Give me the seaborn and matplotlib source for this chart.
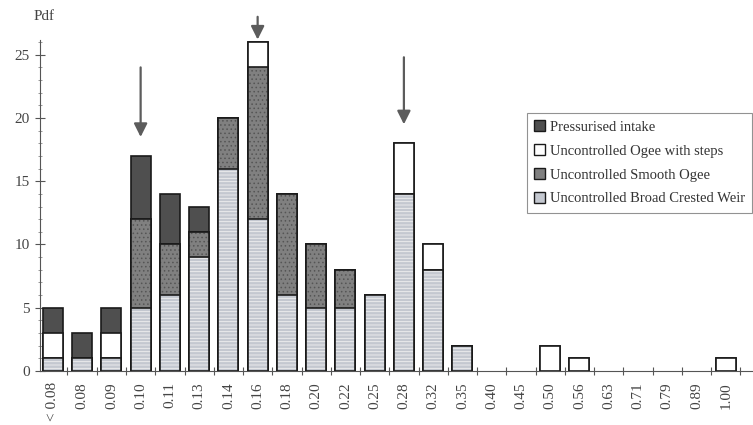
import numpy as np
import pandas as pd
import matplotlib
matplotlib.use("Agg")
import matplotlib.pyplot as plt
from matplotlib.patches import Patch
import seaborn as sns

# Spillway discharge classes (x axis) and counts per spillway type
categories = ["< 0.08", "0.08", "0.09", "0.10", "0.11", "0.13", "0.14", "0.16",
              "0.18", "0.20", "0.22", "0.25", "0.28", "0.32", "0.35", "0.40",
              "0.45", "0.50", "0.56", "0.63", "0.71", "0.79", "0.89", "1.00"]
broad_crested = [1, 1, 1, 5, 6, 9, 16, 12, 6, 5, 5, 6, 14, 8, 2, 0, 0, 0, 0, 0, 0, 0, 0, 0]
smooth_ogee = [0, 0, 0, 7, 4, 2, 4, 12, 8, 5, 3, 0, 0, 0, 0, 0, 0, 0, 0, 0, 0, 0, 0, 0]
ogee_steps = [2, 0, 2, 0, 0, 0, 0, 2, 0, 0, 0, 0, 4, 2, 0, 0, 0, 2, 1, 0, 0, 0, 0, 1]
pressurised = [2, 2, 2, 5, 4, 2, 0, 0, 0, 0, 0, 0, 0, 0, 0, 0, 0, 0, 0, 0, 0, 0, 0, 0]

# arrows pointing at the peaks
arrow_cats = ["0.10", "0.16", "0.28"]
arrow_tail = [24.0, 28.0, 24.8]
arrow_tip = [18.5, 26.2, 19.5]

sns.set_style("white")
plt.rcParams["font.family"] = ["Liberation Serif", "DejaVu Serif"]
plt.rcParams["hatch.linewidth"] = 0.6

df = pd.DataFrame({
    "cat": categories,
    "broad": broad_crested,
    "smooth": smooth_ogee,
    "steps": ogee_steps,
    "press": pressurised,
})
df["l1"] = df["broad"]
df["l2"] = df["l1"] + df["smooth"]
df["l3"] = df["l2"] + df["steps"]
df["l4"] = df["l3"] + df["press"]

fig = plt.figure(figsize=(7.53, 4.25), dpi=100)
ax = fig.add_axes([40 / 753, 1 - 371 / 425, 712 / 753, 1 - 13 / 425 - (1 - 371 / 425)])

c_press = "#4f4f4f"
c_steps = "#ffffff"
c_smooth = "#808080"
c_broad = "#c4c8d0"
width = 0.68

layers = [
    ("l4", c_press, None, None),
    ("l3", c_steps, None, None),
    ("l2", c_smooth, "....", "#555555"),
    ("l1", c_broad, "-----", "#f0f0f0"),
]
for col, fc, hatch, hc in layers:
    if hatch:
        sns.barplot(data=df, x="cat", y=col, order=categories, color=fc,
                    width=width, ax=ax, saturation=1, linewidth=0,
                    edgecolor=hc, hatch=hatch)
        for p in ax.containers[-1]:
            p.set_edgecolor(hc)
            p.set_linewidth(0)
    sns.barplot(data=df, x="cat", y=col, order=categories,
                color=fc if not hatch else "none", fill=not hatch,
                width=width, ax=ax, saturation=1,
                edgecolor="#1a1a1a", linewidth=1.2)
    for p in ax.containers[-1]:
        p.set_edgecolor("#1a1a1a")
        if hatch:
            p.set_facecolor("none")

# hide empty bins so they do not thicken the axis line
for p in ax.patches:
    if p.get_height() == 0:
        p.set_visible(False)

for cat, y0, y1 in zip(arrow_cats, arrow_tail, arrow_tip):
    xi = categories.index(cat)
    ax.annotate("", xy=(xi, y1), xytext=(xi, y0),
                arrowprops=dict(arrowstyle="-|>", color="#5c5c5c", lw=1.6,
                                mutation_scale=20, shrinkA=0, shrinkB=0))

ax.set_xlim(-0.44, len(categories) - 0.1)
ax.set_ylim(0, 28.3)
sns.despine(ax=ax)
ax.spines["left"].set_bounds(0, 26.2)
ax.spines["left"].set_color("#555555")
ax.spines["bottom"].set_color("#555555")
ax.spines["left"].set_linewidth(0.8)
ax.spines["bottom"].set_linewidth(0.8)

ax.set_yticks(np.arange(0, 26, 5))
ax.set_yticks(np.arange(0, 27, 1), minor=True)
ax.tick_params(axis="y", which="major", direction="inout", length=7, width=0.8,
               color="#555555", labelsize=11, labelcolor="#444444", pad=4, left=True)
ax.tick_params(axis="y", which="minor", direction="inout", length=3, width=0.6,
               color="#888888", left=True)

ax.set_xticks(range(len(categories)))
ax.set_xticklabels(categories, rotation=90)
ax.set_xticks(np.arange(0.5, len(categories) - 0.4, 1), minor=True)
ax.tick_params(axis="x", which="major", length=0, labelsize=11,
               labelcolor="#444444", pad=8)
ax.tick_params(axis="x", which="minor", direction="inout", length=6, width=0.8,
               color="#555555", bottom=True)
ax.set_xlabel("")
ax.set_ylabel("")
fig.text(44 / 753, 1 - 17 / 425, "Pdf", ha="center", va="center",
         fontsize=11, color="#444444")

handles = [
    Patch(facecolor=c_press, edgecolor="#1a1a1a", label="Pressurised intake"),
    Patch(facecolor=c_steps, edgecolor="#1a1a1a", label="Uncontrolled Ogee with steps"),
    Patch(facecolor=c_smooth, edgecolor="#1a1a1a", label="Uncontrolled Smooth Ogee"),
    Patch(facecolor=c_broad, edgecolor="#1a1a1a", label="Uncontrolled Broad Crested Weir"),
]
leg = fig.legend(handles=handles, loc="upper left",
                 bbox_to_anchor=(527 / 753, 1 - 113 / 425),
                 fontsize=10.5, frameon=True, fancybox=False,
                 handlelength=0.75, handleheight=0.75, handletextpad=0.3,
                 labelspacing=0.72, borderpad=0.5, borderaxespad=0)
leg.get_frame().set_edgecolor("#777777")
leg.get_frame().set_linewidth(0.8)
for t in leg.get_texts():
    t.set_color("#333333")

fig.savefig("out.png", dpi=100)
